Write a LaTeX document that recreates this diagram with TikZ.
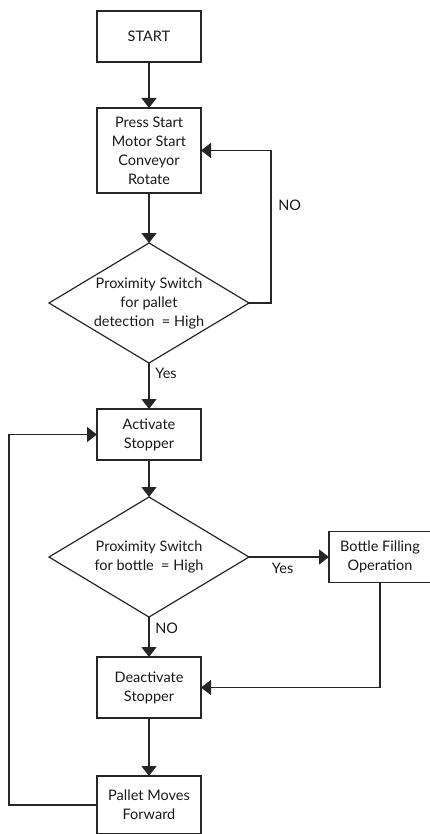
\documentclass[tikz,border=0pt]{standalone}
\usepackage{fontspec}
\setmainfont{Lato}
\usetikzlibrary{positioning,shapes.geometric,arrows.meta}

\begin{document}
\begin{tikzpicture}[
		x=1pt,y=1pt,
		line width=1.4pt,
		draw=black!85,
		every node/.style={
			align=center,
			font=\fontsize{14.5}{19}\selectfont,
			text=black!90,
			outer sep=0pt,
		},
		box/.style={draw, line width=1.2pt, minimum width=104pt, minimum height=51pt, inner sep=2pt},
		decision/.style={draw, diamond, line width=1.2pt, minimum width=200pt, minimum height=120pt, inner sep=0pt, aspect=1.67},
		flow/.style={-{Triangle[width=15pt,length=10pt]}},
		]

		\useasboundingbox (0,0) rectangle (429,-834);

		\node (start) [box] at (149,-36.5) {START};
		\node (press) [box, minimum height=85pt, below = 46pt of start] {Press Start\\Motor Start\\Conveyor\\Rotate};
		\node (pallet) [decision, below = 50pt of press] {Proximity Switch\\for pallet\\detection\ \ = High};
		\node (activate) [box, below = 46pt of pallet] {Activate\\Stopper};
		\node (bottle) [decision, below = 37pt of activate] {Proximity Switch\\for bottle\ \ = High};
		\node (filling) [box, minimum width=102pt, right = 80pt of bottle] {Bottle Filling\\Operation};
		\node (deactivate) [box, minimum height=61pt, below = 40pt of bottle] {Deactivate\\Stopper};
		\node (moves) [box, minimum height=58pt, below = 58pt of deactivate] {Pallet Moves\\Forward};

		\draw[flow] (start) -- (press);
		\draw[flow] (press.south) -- (pallet.north);
		\draw[flow] (pallet.east) -- ++(22,0) |- (press.east) node[right=4pt, pos=0.32] {NO};
		\draw[flow] (pallet.south) -- (activate.north) node[right=3pt, pos=0.22] {Yes};
		\draw[flow] (activate.south) -- (bottle.north);
		\draw[flow] (bottle.east) -- (filling.west) node[below=3pt, pos=0.42] {Yes};
		\draw[flow] (bottle.south) -- (deactivate.north) node[right=3pt, pos=0.27] {NO};
		\draw[flow] (filling.south) |- (deactivate.east);
		\draw[flow] (deactivate.south) -- (moves.north);
		\draw[flow] (moves.west) -- ++(-88,0) |- (activate.west);

	\end{tikzpicture}
\end{document}
